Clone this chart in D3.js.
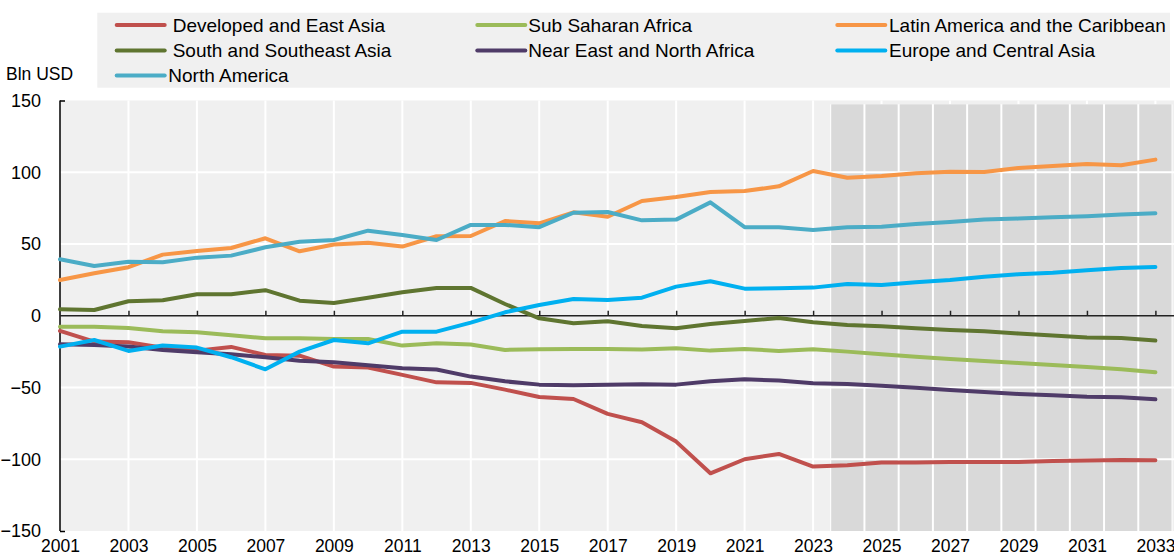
<!DOCTYPE html>
<html><head><meta charset="utf-8">
<script src="https://cdn.jsdelivr.net/npm/d3@7"></script>
<style>
body{margin:0;background:#fff;}
svg{display:block;font-family:"Liberation Sans",Arial,sans-serif;}
</style>
</head><body>
<svg id="chart" width="1174" height="556"></svg>
<script>
// ---------- data ----------
const years = [2001,2002,2003,2004,2005,2006,2007,2008,2009,2010,2011,2012,2013,2014,2015,2016,2017,
  2018,2019,2020,2021,2022,2023,2024,2025,2026,2027,2028,2029,2030,2031,2032,2033];
const xTickYears = [2001,2003,2005,2007,2009,2011,2013,2015,2017,2019,2021,2023,2025,2027,2029,2031,2033];
const yTicks = [-150,-100,-50,0,50,100,150];
const projectionYears = [2024,2025,2026,2027,2028,2029,2030,2031,2032,2033];
const yAxisTitle = "Bln USD";

const seriesNames = ["Developed and East Asia","Sub Saharan Africa","Latin America and the Caribbean",
  "South and Southeast Asia","Near East and North Africa","Europe and Central Asia","North America"];
const seriesColors = ["#c0504d","#9bbb59","#f79646","#5f7530","#4f3b68","#00b0f0","#4bacc6"];

const developedEastAsia = [-10.6,-18,-18.5,-22.2,-24.3,-21.7,-27.3,-27.8,-35.4,-36.1,-41.2,-46.4,-46.8,-51.5,-56.6,-58,-68.4,
  -74.2,-87.7,-109.8,-100,-96.3,-105.1,-104.2,-102.3,-102.3,-101.9,-101.9,-101.9,-101.2,-100.9,-100.5,-100.7];
const subSaharanAfrica = [-7.6,-7.6,-8.5,-10.8,-11.5,-13.6,-15.7,-15.7,-16.2,-16.2,-20.8,-19.2,-20.1,-23.8,-23.3,-23.1,-23.1,
  -23.6,-22.6,-24.3,-23.1,-24.5,-23.3,-25,-26.8,-28.5,-30.1,-31.5,-32.9,-34.3,-35.7,-37.3,-39.4];
const latinAmerica = [24.9,29.6,33.8,42.6,45.1,47.2,54,44.9,49.6,50.9,48.2,55.4,55.6,66,64.4,72.1,69,
  80,82.8,86.3,86.9,90.2,100.9,96.2,97.4,99.3,100.4,100.2,103,104.4,105.8,104.9,108.8];
const southAsia = [4.5,4,10.1,10.8,15,15,17.8,10.5,8.9,12.6,16.4,19.4,19.4,8.2,-1.8,-5.2,-3.8,
  -7.1,-8.7,-5.7,-3.6,-1.5,-4.5,-6.4,-7.3,-8.7,-9.9,-10.8,-12.4,-13.8,-15.2,-15.5,-17.3];
const nearEast = [-19.9,-20.3,-21.5,-23.8,-25.5,-26.8,-28.9,-31.3,-32.4,-34.5,-36.6,-37.5,-42.4,-45.7,-48,-48.4,-48,
  -47.7,-48,-45.7,-44.2,-45.2,-47,-47.5,-48.7,-50.1,-51.7,-53.1,-54.5,-55.4,-56.4,-56.8,-58.2];
const europeCentralAsia = [-21.5,-16.9,-24.5,-20.8,-22.2,-28.9,-37.3,-25,-16.9,-19.2,-11.1,-11.1,-4.8,2.4,7.5,11.7,11,
  12.6,20.3,24,18.9,19.2,19.6,22.2,21.5,23.3,24.9,27.2,28.9,30,31.7,33.3,34];
const northAmerica = [39.4,34.7,37.7,37.3,40.5,41.9,47.7,51.6,52.8,59.3,56.3,52.8,63.3,63.3,61.7,71.8,72.3,
  66.5,67,79,61.7,61.7,59.8,61.6,62.1,64,65.4,67,67.7,68.6,69.3,70.5,71.4];

const seriesValues = [developedEastAsia, subSaharanAfrica, latinAmerica, southAsia, nearEast, europeCentralAsia, northAmerica];

// ---------- layout ----------
const plotL = 60, plotR = 1174, plotT = 100.5, plotB = 531;
const svg = d3.select("#chart");

const x = d3.scaleLinear().domain([2001, 2033]).range([60, 1155.4]);
const y = d3.scaleLinear().domain([-150, 150]).range([plotB, plotT]);

// plot background
svg.append("rect").attr("x", plotL).attr("y", plotT).attr("width", plotR - plotL).attr("height", plotB - plotT)
  .attr("fill", "#f0f0f0");

// vertical gridlines
svg.append("g").selectAll("line").data(xTickYears.filter(d => d > 2001)).join("line")
  .attr("x1", d => x(d)).attr("x2", d => x(d)).attr("y1", plotT).attr("y2", plotB)
  .attr("stroke", "#fff").attr("stroke-width", 2);

// projection shading
const step = x(2002) - x(2001);
const shadeTop = 104.3;
svg.append("rect").attr("x", x(projectionYears[0] - 0.5)).attr("y", shadeTop)
  .attr("width", x(projectionYears[projectionYears.length - 1] + 0.5) - x(projectionYears[0] - 0.5))
  .attr("height", plotB - shadeTop).attr("fill", "#fff");
svg.append("g").selectAll("rect").data(projectionYears).join("rect")
  .attr("x", d => x(d - 0.5) + 1).attr("width", step - 2)
  .attr("y", shadeTop).attr("height", plotB - shadeTop)
  .attr("fill", "#d9d9d9");

// horizontal gridlines
svg.append("g").selectAll("line").data(yTicks.filter(d => d !== 0 && Math.abs(d) !== 150)).join("line")
  .attr("x1", plotL).attr("x2", plotR).attr("y1", d => y(d)).attr("y2", d => y(d))
  .attr("stroke", "#fff").attr("stroke-width", 2);

// y axis
const yAxis = svg.append("g").attr("transform", `translate(${plotL},0)`)
  .call(d3.axisLeft(y).tickValues(yTicks).tickFormat(d3.format("d")).tickSize(-5).tickPadding(19));
yAxis.select(".domain").remove();
yAxis.selectAll(".tick line").attr("stroke", "#000").attr("stroke-width", 1.5)
  .attr("display", d => Math.abs(d) === 150 ? null : "none");
yAxis.selectAll(".tick text").attr("font-size", 18).attr("fill", "#000").attr("font-family", "Liberation Sans, Arial, sans-serif");
svg.append("line").attr("x1", plotL).attr("x2", plotL).attr("y1", plotT).attr("y2", plotB)
  .attr("stroke", "#000").attr("stroke-width", 1.5);

// zero line with ticks
const zeroAxis = svg.append("g").attr("transform", `translate(0,${y(0)})`)
  .call(d3.axisTop(x).tickValues(xTickYears.filter(d => d > 2001)).tickSize(5).tickFormat(""));
zeroAxis.select(".domain").remove();
zeroAxis.selectAll(".tick line").attr("stroke", "#222").attr("stroke-width", 1.5);
svg.append("line").attr("x1", plotL).attr("x2", plotR).attr("y1", y(0)).attr("y2", y(0))
  .attr("stroke", "#222").attr("stroke-width", 1.5);

// x labels at bottom
const xAxis = svg.append("g").attr("transform", `translate(0,${plotB})`)
  .call(d3.axisBottom(x).tickValues(xTickYears).tickFormat(d3.format("d")).tickSize(0).tickPadding(0));
xAxis.select(".domain").remove();
xAxis.selectAll(".tick text").attr("font-size", 17.5).attr("fill", "#000")
  .attr("font-family", "Liberation Sans, Arial, sans-serif").attr("dy", null).attr("y", 21);

// axis title
svg.append("text").attr("x", 6).attr("y", 80).attr("font-size", 17.5).attr("fill", "#000").text(yAxisTitle);

// series lines
const line = d3.line().x((d, i) => x(years[i])).y(d => y(d));
svg.append("g").selectAll("path").data(seriesValues).join("path")
  .attr("d", d => line(d)).attr("fill", "none")
  .attr("stroke", (d, i) => seriesColors[i]).attr("stroke-width", 4)
  .attr("stroke-linejoin", "round").attr("stroke-linecap", "round");

// legend
svg.append("rect").attr("x", 97.3).attr("y", 12.7).attr("width", 1170 - 97.3).attr("height", 75).attr("fill", "#f0f0f0");
const legendCols = [116.7, 477.3, 837.3];
const legendRows = [25, 50.5, 75.5];
const legendTextX = [[172.7, 528.3, 889], [172.7, 528.3, 889], [168.3]];
const lg = svg.append("g").selectAll("g").data(seriesNames).join("g")
  .attr("transform", (d, i) => `translate(0,${legendRows[Math.floor(i / 3)]})`);
lg.append("line")
  .attr("x1", (d, i) => legendCols[i % 3]).attr("x2", (d, i) => legendCols[i % 3] + 48)
  .attr("y1", 0).attr("y2", 0)
  .attr("stroke", (d, i) => seriesColors[i]).attr("stroke-width", 4).attr("stroke-linecap", "round");
lg.append("text")
  .attr("x", (d, i) => legendTextX[Math.floor(i / 3)][i % 3]).attr("y", 0).attr("dy", "0.36em")
  .attr("font-size", 19).attr("fill", "#000").text(d => d);
</script>
</body></html>
